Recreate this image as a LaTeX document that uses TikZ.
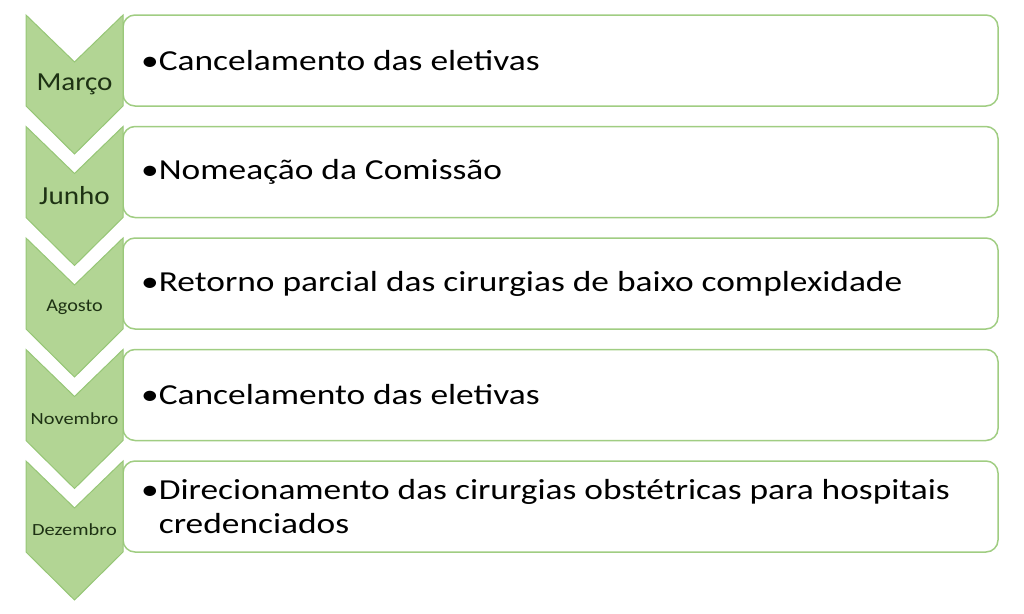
\documentclass[tikz,border=0pt]{standalone}
\usepackage{fontspec}
\setmainfont{Carlito}
\definecolor{chevfill}{RGB}{178,213,148}
\definecolor{chevline}{RGB}{150,198,118}
\definecolor{boxline}{RGB}{160,205,130}
\definecolor{monthtext}{RGB}{30,50,20}

\tikzset{
  chev/.style={fill=chevfill,draw=chevline,line width=1pt,line join=miter},
  itembox/.style={draw=boxline,fill=white,line width=1.5pt,rounded corners=12pt},
  monthlabel/.style={text=monthtext,inner sep=0pt,transform shape},
  itemtext/.style={anchor=west,align=left,inner sep=0pt,text=black,
    font=\fontsize{29}{34}\selectfont,xscale=1.22,transform shape}
}

\begin{document}
\begin{tikzpicture}[x=1pt,y=-1pt]
\useasboundingbox (0,0) rectangle (1024,613);
% one row per month: box, chevron, label, item text
\foreach \i/\mon/\sz/\xs/\txt in {
  0/Março/26/1.12/{\textbullet Cancelamento das eletivas},
  1/Junho/26/1.12/{\textbullet Nomeação da Comissão},
  2/Agosto/18/1.12/{\textbullet Retorno parcial das cirurgias de baixo complexidade},
  3/Novembro/17/1.2/{\textbullet Cancelamento das eletivas},
  4/Dezembro/17/1.2/{\textbullet Direcionamento das cirurgias obstétricas para hospitais\\\phantom{\textbullet}credenciados}}
{
  \pgfmathsetmacro{\top}{15+111.5*\i}
  \draw[itembox] (123,\top) rectangle (998,\top+91);
  \draw[chev] (26,\top) -- (74.5,\top+47) -- (123,\top) -- (123,\top+91)
    -- (74.5,\top+139) -- (26,\top+91) -- cycle;
  \node[monthlabel,xscale=\xs,font=\fontsize{\sz}{\sz}\selectfont] (month\i) at (74.5,\top+69) {\mon};
  \node[itemtext] (item\i) at (141,\top+45.5) {\txt};
}
\end{tikzpicture}
\end{document}
